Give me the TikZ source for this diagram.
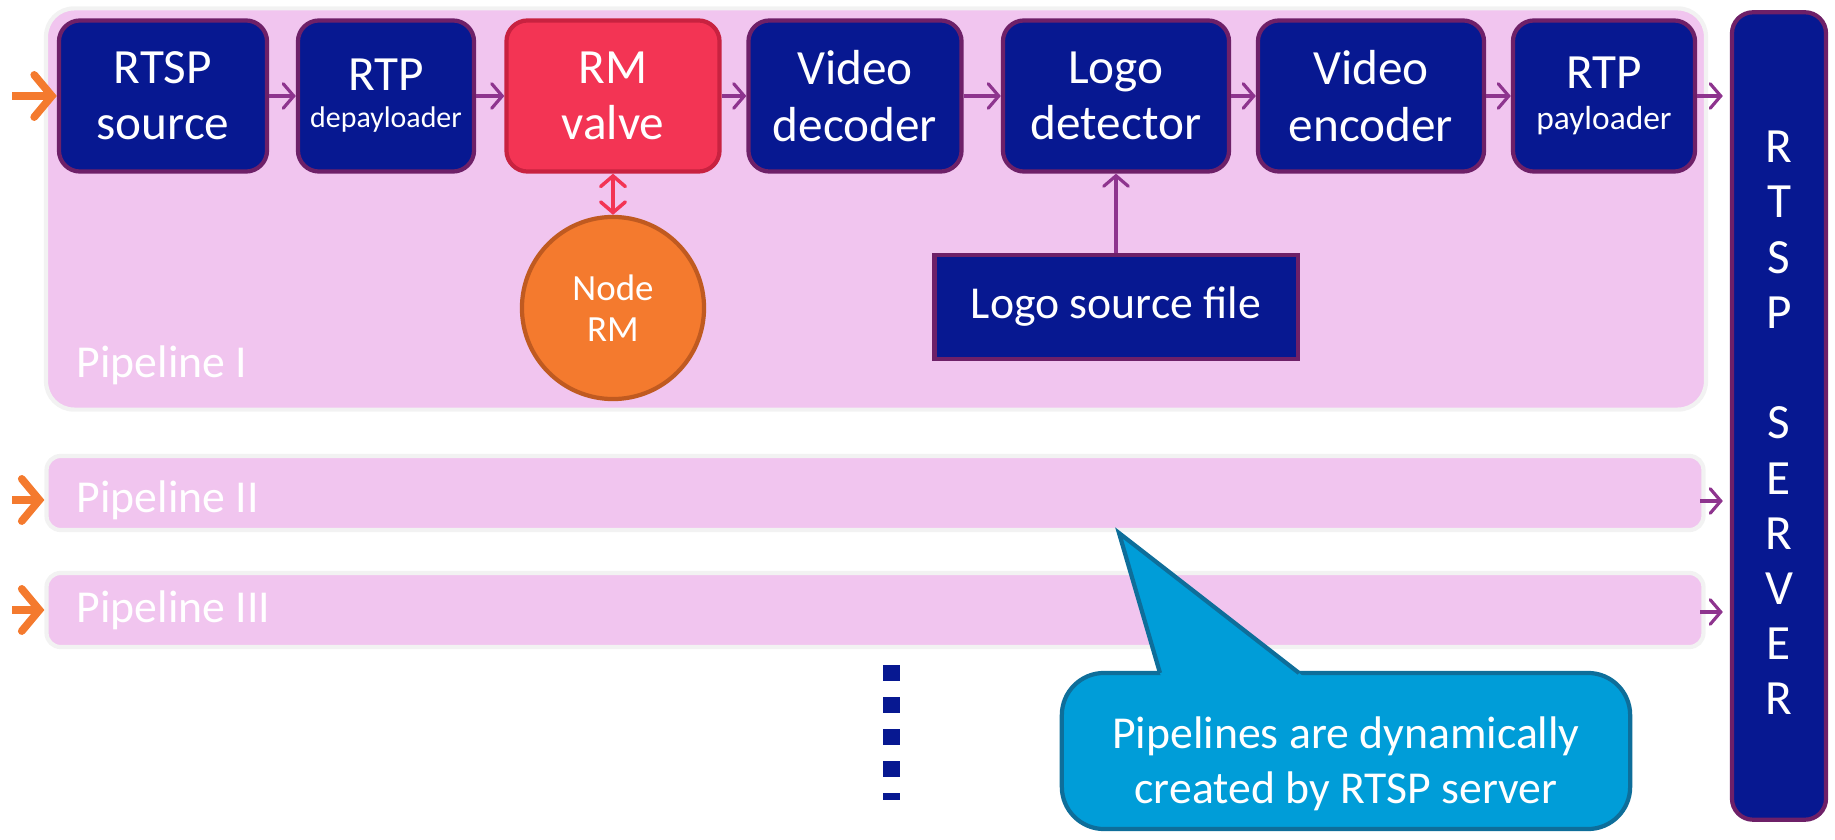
\documentclass[tikz,border=0pt]{standalone}
\usepackage{fontspec}
\setmainfont{Carlito}
\usetikzlibrary{arrows.meta}
\definecolor{navy}{RGB}{7,24,145}
\definecolor{plum}{RGB}{110,32,104}
\definecolor{flowpurple}{RGB}{142,52,142}
\definecolor{pipepink}{RGB}{241,197,239}
\definecolor{valvered}{RGB}{243,52,84}
\definecolor{valveedge}{RGB}{200,34,64}
\definecolor{rmorange}{RGB}{244,122,46}
\definecolor{rmedge}{RGB}{192,90,32}
\definecolor{noteblue}{RGB}{0,157,216}
\definecolor{noteedge}{RGB}{14,110,154}
\begin{document}
\begin{tikzpicture}
		[x=0.01cm,y=-0.01cm,
		pipe/.style={draw=gray!10,line width=1.2pt,fill=pipepink,rounded corners=4pt,inner sep=0pt},
		elem/.style={rectangle,rounded corners=6pt,draw=plum,line width=1.2pt,fill=navy,text=white,align=center,
			inner sep=0pt,minimum height=1.51cm,font=\fontsize{14}{16}\selectfont},
		label/.style={text=white,anchor=west,inner sep=0pt,font=\fontsize{13}{15}\selectfont},
		flow/.style={-{Straight Barb[length=3pt,width=7pt,line cap=round]},flowpurple,line width=0.9pt},
		feed/.style={-{Straight Barb[length=5pt,width=12pt,line cap=round]},rmorange,line width=2.2pt},
		>=latex]
		\useasboundingbox (0,0) rectangle (1835,840);
		% pipelines
		\node[pipe,name=p1,rounded corners=8pt,minimum width=16.59cm,minimum height=4.01cm]at(876,209){};
		\node[pipe,name=p2,minimum width=16.56cm,minimum height=0.74cm]at(875,493){};
		\node[pipe,name=p3,minimum width=16.56cm,minimum height=0.74cm]at(875,610){};
		\node[label,name=l1]at(76,365){Pipeline I};
		\node[label,name=l2]at(76,500){Pipeline II};
		\node[label,name=l3]at(76,610){Pipeline III};
		% elements of pipeline I
		\node[elem,name=src,minimum width=2.08cm]at(163,96){RTSP\\source};
		\node[elem,name=depay,minimum width=1.76cm]at(386,96){RTP\\[-5.5pt]{\fontsize{8.5}{10}\selectfont depayloader}};
		\node[elem,name=valve,minimum width=2.13cm,fill=valvered,draw=valveedge]at(613,96){RM\\valve};
		\node[elem,name=dec,minimum width=2.13cm]at(855,96){Video\\decoder};
		\node[elem,name=det,minimum width=2.26cm]at(1116,96){Logo\\detector};
		\node[elem,name=enc,minimum width=2.26cm]at(1371,96){Video\\encoder};
		\node[elem,name=pay,minimum width=1.82cm]at(1604,96){RTP\\[-4.5pt]{\fontsize{9.5}{11}\selectfont payloader}};
		\node[circle,name=rm,draw=rmedge,line width=1.2pt,fill=rmorange,text=white,align=center,minimum size=1.82cm,
			inner sep=0pt,font=\fontsize{10.5}{11.6}\selectfont]at(613,308){Node\\RM};
		\node[elem,name=logo,rounded corners=0pt,minimum width=3.63cm,minimum height=1.04cm,
			font=\fontsize{13}{15}\selectfont]at(1116,307){Logo source file};
		\node[elem,name=srv,rounded corners=6pt,minimum width=0.94cm,minimum height=8.07cm]at(1779,416){};
		\node[name=srvtext,text=white,align=center,inner sep=0pt,font=\fontsize{14}{15.7}\selectfont]at(1779,423)
			{R\\T\\S\\P\\[15.7pt]S\\E\\R\\V\\E\\R};
		% flow
		\draw[flow] (src)--(depay);
		\draw[flow] (depay)--(valve);
		\draw[flow] (valve)--(dec);
		\draw[flow] (dec)--(det);
		\draw[flow] (det)--(enc);
		\draw[flow] (enc)--(pay);
		\draw[flow,shorten >=2pt] (pay)--(pay-|srv.west);
		\draw[flow] (logo)--(det);
		\draw[{Straight Barb[length=3pt,width=7pt,line cap=round]}-{Straight Barb[length=3pt,width=7pt,line cap=round]},
			valvered,line width=1pt] (valve)--(rm);
		\coordinate (out2) at (1700,501);
		\coordinate (out3) at (1700,612);
		\draw[flow,shorten >=2pt] (out2)--(out2-|srv.west);
		\draw[flow,shorten >=2pt] (out3)--(out3-|srv.west);
		% inputs
		\coordinate (in1) at (12,96);
		\coordinate (in2) at (12,500);
		\coordinate (in3) at (12,610);
		\draw[feed] (in1)--(src);
		\draw[feed] (in2)--(in2-|p2.west);
		\draw[feed] (in3)--(in3-|p3.west);
		% more pipelines
		\foreach \y in {665,697,729,761}
			\fill[navy] (883,\y) rectangle +(17,16);
		\fill[navy] (883,793) rectangle +(17,7);
		% callout
		\node[name=note,draw=noteedge,line width=1.2pt,fill=noteblue,rounded corners=12pt,
			minimum width=5.68cm,minimum height=1.56cm]at(1346,751){};
		\coordinate (tip) at (1119,533);
		\fill[noteblue] (1162,680)--(tip)--(1308,680)--cycle;
		\draw[noteedge,line width=1.2pt] (1160,673)--(tip)--(1299,673);
		\node[name=notetext,text=white,align=center,font=\fontsize{13}{15.6}\selectfont]at(1346,764)
			{Pipelines are dynamically\\created by RTSP server};
	\end{tikzpicture}
\end{document}
